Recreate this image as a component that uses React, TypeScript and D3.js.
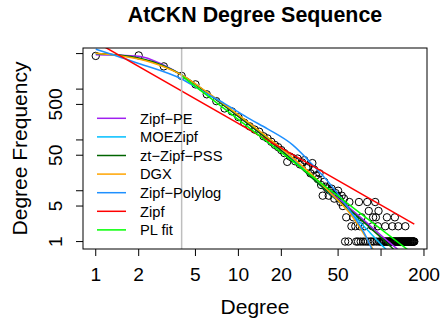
import React from 'react';
import * as d3 from 'd3';

const W = 442;
const H = 323;
const M = { left: 83, right: 427, top: 48, bottom: 249 };

// observed degree sequence (head: one value per degree)
const headDegrees = [1, 2, 3, 4, 5, 6, 7, 8, 9, 10, 11, 12, 13, 14, 15, 16, 17, 18, 19, 20, 21, 22, 23, 24, 25, 26, 27, 28, 29, 30, 31, 32, 33, 34, 35, 36, 37, 38, 39, 40, 41, 42, 43, 44, 45, 46, 47, 48, 49, 50, 51, 52, 53, 54, 55];
const headFreqs = [4500, 4600, 2800, 1820, 1240, 790, 580, 416, 364, 282, 218, 185, 160, 145, 118, 107, 92, 80, 72, 63, 55, 37, 47, 44, 38, 43, 33, 36, 40, 28, 30, 22, 35, 26, 20, 17, 22, 13, 8, 15, 12, 11, 8, 10, 11, 9, 7, 9, 8, 10, 7, 6, 8, 5, 7];
// tail: degrees grouped by their (small) frequency
const tailDeg6 = [60, 70, 80, 91];
const tailDeg4 = [82, 96];
const tailDeg3 = [57, 64, 73, 88, 92, 110, 125];
const tailDeg2 = [62, 66, 71, 77, 87, 95, 107, 120, 132, 148];
const tailDeg1 = [56, 59, 67, 69, 72, 75, 78, 81, 84, 86, 89, 93, 97, 99, 101, 103, 104, 105, 106, 108, 109, 111, 112, 114, 115, 116, 118, 119, 121, 122, 123, 124, 126, 127, 128, 130, 131, 133, 134, 135, 136, 138, 139, 140, 141, 142, 144, 145, 146, 147, 149, 150, 151, 153, 154, 155, 156, 157, 159, 160, 161, 162, 164, 165, 166, 168, 169, 170, 171];

// fitted model curves (degree, expected frequency)
const zipfPE_d = [1, 2, 3, 4, 6, 10, 20, 40, 60, 80, 100, 140, 171];
const zipfPE_f = [4750, 4450, 2950, 1900, 850, 290, 62, 11.5, 4.6, 2.3, 1.32, 0.6, 0.38];
const moe_d = [1, 2, 3, 4, 6, 10, 20, 40, 60, 80, 100, 115, 171];
const moe_f = [5000, 4000, 2850, 1900, 860, 300, 66, 11, 4.0, 1.7, 0.88, 0.6, 0.12];
const pss_d = [1, 2, 3, 4, 6, 10, 20, 40, 60, 80, 100, 128, 171];
const pss_f = [5000, 4100, 2850, 1900, 850, 290, 62, 11, 4.3, 2.1, 1.2, 0.62, 0.25];
const dgx_d = [1, 2, 3, 4, 6, 10, 20, 30, 40, 50, 60, 70, 80, 90, 100];
const dgx_f = [5100, 3900, 2750, 1900, 880, 310, 68, 26, 12, 6.4, 3.7, 2.0, 1.1, 0.62, 0.33];
const polylog_d = [1, 2, 4, 6, 8, 12, 16, 24, 32, 44, 60, 75, 90];
const polylog_f = [6100, 3200, 1580, 810, 520, 260, 165, 80, 36, 13.5, 4.2, 1.6, 0.55];
const zipf_d = [1, 171];
const zipf_f = [8500, 2.2];
const plfit_d = [4, 171];
const plfit_f = [1820, 0.55];

const seriesNames = ['Zipf\u2212PE', 'MOEZipf', 'zt\u2212Zipf\u2212PSS', 'DGX', 'Zipf\u2212Polylog', 'Zipf', 'PL fit'];
const seriesColors = ['#A020F0', '#00BFFF', '#006400', '#FFA500', '#1E90FF', '#FF0000', '#00FF00'];
const seriesD = [zipfPE_d, moe_d, pss_d, dgx_d, polylog_d, zipf_d, plfit_d];
const seriesF = [zipfPE_f, moe_f, pss_f, dgx_f, polylog_f, zipf_f, plfit_f];

const xTicks = [1, 2, 5, 10, 20, 50, 100, 200];
const xTickLabels = ['1', '2', '5', '10', '20', '50', '', '200'];
const yTicks = [1, 5, 10, 50, 100, 500, 1000, 5000];
const yTickLabels = ['1', '5', '', '50', '', '500', '', ''];
const xminLine = 4;

const xDomain = [0.814, 210];
const yDomain = [0.714, 6442];

const FONT = '"Liberation Sans", Arial, Helvetica, sans-serif';

export default function App() {
  const x = d3.scaleLog().domain(xDomain).range([M.left, M.right]);
  const y = d3.scaleLog().domain(yDomain).range([M.bottom, M.top]);

  const points: [number, number][] = [];
  headDegrees.forEach((d, i) => points.push([d, headFreqs[i]]));
  tailDeg6.forEach((d) => points.push([d, 6]));
  tailDeg4.forEach((d) => points.push([d, 4]));
  tailDeg3.forEach((d) => points.push([d, 3]));
  tailDeg2.forEach((d) => points.push([d, 2]));
  tailDeg1.forEach((d) => points.push([d, 1]));

  const line = d3
    .line<[number, number]>()
    .x((p) => x(p[0]))
    .y((p) => y(p[1]))
    .curve(d3.curveMonotoneX);

  const legendX1 = 97;
  const legendX2 = 126;
  const legendTextX = 140;
  const legendY0 = 118.3;
  const legendStep = 18.6;

  return (
    <svg width={W} height={H} style={{ position: 'absolute', left: 0, top: 0, background: '#fff' }} fontFamily={FONT}>
      <defs>
        <clipPath id="plotclip">
          <rect x={M.left} y={M.top} width={M.right - M.left} height={M.bottom - M.top} />
        </clipPath>
      </defs>
      <rect x={0} y={0} width={W} height={H} fill="#fff" />
      <text x={(M.left + M.right) / 2} y={22} textAnchor="middle" fontWeight="bold" fontSize={21.4}>
        AtCKN Degree Sequence
      </text>
      <g clipPath="url(#plotclip)">
        {points.map((p, i) => (
          <circle key={i} cx={x(p[0])} cy={y(p[1])} r={3.7} fill="none" stroke="#000" strokeWidth={1} />
        ))}
        {seriesD.map((ds, k) => (
          <path
            key={k}
            d={line(ds.map((d, i) => [d, seriesF[k][i]]) as [number, number][]) || ''}
            fill="none"
            stroke={seriesColors[k]}
            strokeWidth={1.5}
          />
        ))}
        <line x1={x(xminLine)} x2={x(xminLine)} y1={M.top} y2={M.bottom} stroke="#BEBEBE" strokeWidth={1.5} />
      </g>
      <rect x={M.left} y={M.top} width={M.right - M.left} height={M.bottom - M.top} fill="none" stroke="#000" strokeWidth={1} />
      {xTicks.map((t, i) => (
        <g key={i}>
          <line x1={x(t)} x2={x(t)} y1={M.bottom} y2={M.bottom + 7} stroke="#000" />
          {xTickLabels[i] && (
            <text x={x(t)} y={280.5} textAnchor="middle" fontSize={19.2}>
              {xTickLabels[i]}
            </text>
          )}
        </g>
      ))}
      {yTicks.map((t, i) => (
        <g key={i}>
          <line x1={M.left - 7} x2={M.left} y1={y(t)} y2={y(t)} stroke="#000" />
          {yTickLabels[i] && (
            <text transform={`translate(62,${y(t)}) rotate(-90)`} textAnchor="middle" fontSize={19.2}>
              {yTickLabels[i]}
            </text>
          )}
        </g>
      ))}
      <text x={(M.left + M.right) / 2} y={314} textAnchor="middle" fontSize={21}>
        Degree
      </text>
      <text transform={`translate(26.5,${(M.top + M.bottom) / 2}) rotate(-90)`} textAnchor="middle" fontSize={21}>
        Degree Frequency
      </text>
      {seriesNames.map((n, i) => (
        <g key={i}>
          <line
            x1={legendX1}
            x2={legendX2}
            y1={legendY0 + i * legendStep}
            y2={legendY0 + i * legendStep}
            stroke={seriesColors[i]}
            strokeWidth={1.5}
          />
          <text x={legendTextX} y={legendY0 + i * legendStep + 5.2} fontSize={14.7}>
            {n}
          </text>
        </g>
      ))}
    </svg>
  );
}
